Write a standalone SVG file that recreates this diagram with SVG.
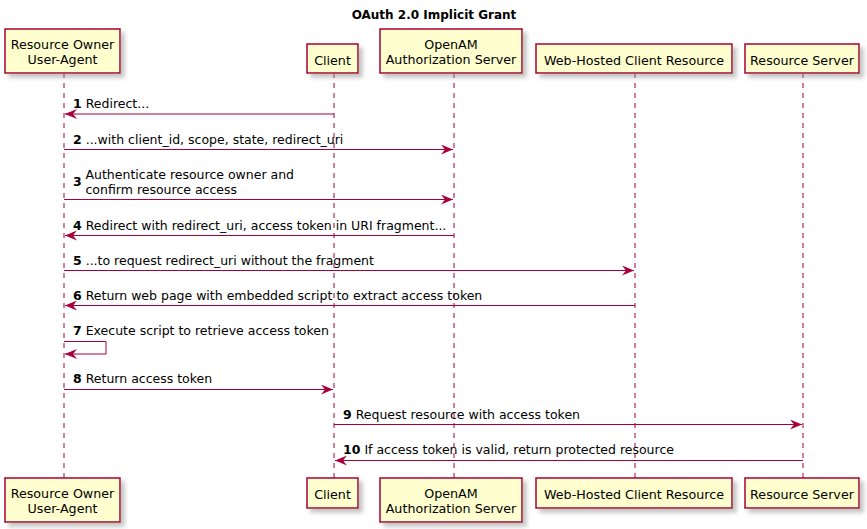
<svg xmlns="http://www.w3.org/2000/svg" width="867" height="529" viewBox="0 0 867 529">
<defs>
<filter id="sh" x="-10%" y="-20%" width="130%" height="160%">
<feGaussianBlur in="SourceAlpha" stdDeviation="2" result="b"/>
<feOffset in="b" dx="4" dy="4" result="o"/>
<feColorMatrix in="o" type="matrix" values="0 0 0 0 0.3  0 0 0 0 0.3  0 0 0 0 0.3  0 0 0 0.55 0" result="c"/>
<feMerge><feMergeNode in="c"/><feMergeNode in="SourceGraphic"/></feMerge>
</filter>
<marker id="ah" viewBox="0 0 12 10" refX="12" refY="5" markerWidth="12" markerHeight="10" markerUnits="userSpaceOnUse" orient="auto">
<polygon points="0,0 12,5 0,10 4,5" fill="#A80036"/>
</marker>
</defs>
<style>
.box{fill:#FEFECE;stroke:#A80036;stroke-width:1.5;filter:url(#sh)}
.life{stroke:#A80036;stroke-width:1;stroke-dasharray:5,5;fill:none}
.msg{stroke:#A80036;stroke-width:1;fill:none;marker-end:url(#ah)}
.t{font-family:"DejaVu Sans","Liberation Sans",sans-serif;font-size:12.5px;fill:#000}
.p{font-size:12.7px}
.c{text-anchor:middle}
.b{font-weight:bold}
.title{font-size:12px}
</style>
<rect width="867" height="529" fill="#FFFFFF"/>
<text class="t b c title" x="434" y="19">OAuth 2.0 Implicit Grant</text>

<g id="lifelines">
<line class="life" x1="64" y1="73" x2="64" y2="478"/>
<line class="life" x1="334" y1="73" x2="334" y2="478"/>
<line class="life" x1="454" y1="73" x2="454" y2="478"/>
<line class="life" x1="635" y1="73" x2="635" y2="478"/>
<line class="life" x1="803" y1="73" x2="803" y2="478"/>
</g>

<g id="ro-top"><rect class="box" x="5" y="29" width="115" height="44"/><text class="t p c" x="62.5" y="48.5">Resource Owner</text><text class="t p c" x="62.5" y="64">User-Agent</text></g>
<g id="client-top"><rect class="box" x="307" y="44" width="51" height="29"/><text class="t p c" x="332.5" y="64.5">Client</text></g>
<g id="openam-top"><rect class="box" x="380" y="29" width="142" height="44"/><text class="t p c" x="451" y="48.5">OpenAM</text><text class="t p c" x="451" y="64">Authorization Server</text></g>
<g id="web-top"><rect class="box" x="536" y="44" width="196" height="29"/><text class="t p c" x="634" y="64.5">Web-Hosted Client Resource</text></g>
<g id="rs-top"><rect class="box" x="745" y="44" width="114" height="29"/><text class="t p c" x="802" y="64.5">Resource Server</text></g>

<g id="ro-bottom"><rect class="box" x="5" y="478" width="115" height="44"/><text class="t p c" x="62.5" y="497.5">Resource Owner</text><text class="t p c" x="62.5" y="513">User-Agent</text></g>
<g id="client-bottom"><rect class="box" x="307" y="478" width="51" height="30"/><text class="t p c" x="332.5" y="498.5">Client</text></g>
<g id="openam-bottom"><rect class="box" x="380" y="478" width="142" height="44"/><text class="t p c" x="451" y="497.5">OpenAM</text><text class="t p c" x="451" y="513">Authorization Server</text></g>
<g id="web-bottom"><rect class="box" x="536" y="478" width="196" height="30"/><text class="t p c" x="634" y="498.5">Web-Hosted Client Resource</text></g>
<g id="rs-bottom"><rect class="box" x="745" y="478" width="114" height="30"/><text class="t p c" x="802" y="498.5">Resource Server</text></g>

<g id="connectors">
<line class="msg" x1="334" y1="114" x2="65" y2="114"/>
<line class="msg" x1="64" y1="149.5" x2="453" y2="149.5"/>
<line class="msg" x1="64" y1="199.5" x2="453" y2="199.5"/>
<line class="msg" x1="454" y1="235.5" x2="65" y2="235.5"/>
<line class="msg" x1="64" y1="270.5" x2="634" y2="270.5"/>
<line class="msg" x1="635" y1="305.5" x2="65" y2="305.5"/>
<polyline class="msg" points="64,341.5 106,341.5 106,354 65,354"/>
<line class="msg" x1="64" y1="389.5" x2="333" y2="389.5"/>
<line class="msg" x1="334" y1="424.5" x2="802" y2="424.5"/>
<line class="msg" x1="803" y1="460.5" x2="335" y2="460.5"/>
</g>

<g id="labels">
<text class="t" x="73" y="108"><tspan class="b">1</tspan> Redirect...</text>
<text class="t" x="73" y="143.5"><tspan class="b">2</tspan> ...with client_id, scope, state, redirect_uri</text>
<text class="t b" x="73" y="186">3</text>
<text class="t" x="85.5" y="178.5">Authenticate resource owner and</text>
<text class="t" x="85.5" y="193.5">confirm resource access</text>
<text class="t" x="73" y="229.5"><tspan class="b">4</tspan> Redirect with redirect_uri, access token in URI fragment...</text>
<text class="t" x="73" y="264.5"><tspan class="b">5</tspan> ...to request redirect_uri without the fragment</text>
<text class="t" x="73" y="299.5"><tspan class="b">6</tspan> Return web page with embedded script to extract access token</text>
<text class="t" x="73" y="335"><tspan class="b">7</tspan> Execute script to retrieve access token</text>
<text class="t" x="73" y="383"><tspan class="b">8</tspan> Return access token</text>
<text class="t" x="343" y="418.5"><tspan class="b">9</tspan> Request resource with access token</text>
<text class="t" x="343" y="454"><tspan class="b">10</tspan> If access token is valid, return protected resource</text>
</g>
</svg>
